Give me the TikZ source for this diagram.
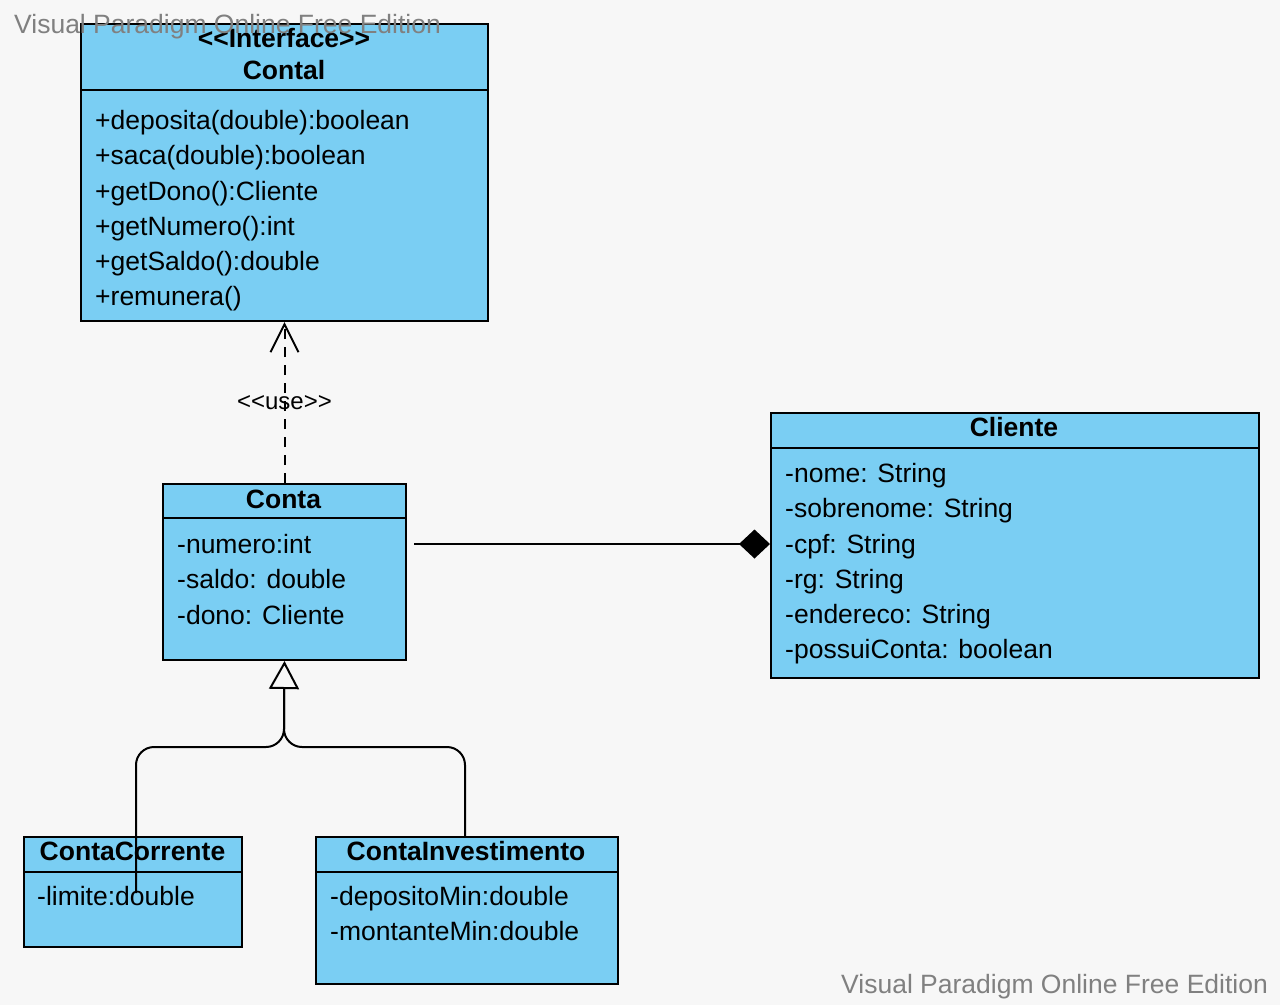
\documentclass[tikz,border=0pt]{standalone}
\usepackage{fontspec}
\setmainfont{Liberation Sans}[Ligatures=TeXOff]
\usetikzlibrary{arrows.meta}
\definecolor{pagebg}{RGB}{247,247,247}
\definecolor{classfill}{RGB}{122,206,243}
\definecolor{markgray}{RGB}{128,128,128}

\begin{document}
\begin{tikzpicture}[x=1pt,y=-1pt,
  classbox/.style={draw=black, line width=2pt, fill=classfill, anchor=north west, inner sep=0pt},
  divider/.style={line width=2pt},
  member/.style={anchor=base west, inner sep=0pt, font=\fontsize{26.5}{30}\selectfont},
  classtitle/.style={anchor=base, inner sep=0pt, font=\fontsize{26.5}{30}\selectfont\bfseries},
  wire/.style={line width=2pt, draw=black},
  stereo/.style={inner sep=0pt, font=\fontsize{24}{27}\selectfont},
  watermark/.style={anchor=base west, inner sep=0pt, text=markgray, font=\fontsize{26.5}{30}\selectfont}]

% page
\fill[pagebg] (0,0) rectangle (1280,1005);
\useasboundingbox (0,0) rectangle (1280,1005);

% interface Contal
\node[classbox, minimum width=407pt, minimum height=297pt] (contal) at (80,23) {};
\draw[divider] (80,90) -- (487,90);
\node[classtitle] (contalSt) at (284,47) {<<Interface>>};
\node[classtitle] (contalName) at (284,79) {Contal};
\node[member] (contalM1) at (95,129) {+deposita(double):boolean};
\node[member] (contalM2) at (95,164.5) {+saca(double):boolean};
\node[member] (contalM3) at (95,200) {+getDono():Cliente};
\node[member] (contalM4) at (95,235) {+getNumero():int};
\node[member] (contalM5) at (95,270) {+getSaldo():double};
\node[member] (contalM6) at (95,305.5) {+remunera()};

% class Conta
\node[classbox, minimum width=243pt, minimum height=176pt] (conta) at (162,483) {};
\draw[divider] (162,518) -- (405,518);
\node[classtitle] (contaName) at (283.5,508) {Conta};
\node[member] (contaA1) at (177,553) {-numero:int};
\node[member] (contaA2) at (177,588) {-saldo: double};
\node[member] (contaA3) at (177,624) {-dono: Cliente};

% class Cliente
\node[classbox, minimum width=488pt, minimum height=265pt] (cliente) at (770,412) {};
\draw[divider] (770,448) -- (1258,448);
\node[classtitle] (clienteName) at (1014,436) {Cliente};
\node[member] (clienteA1) at (785,482) {-nome: String};
\node[member] (clienteA2) at (785,517) {-sobrenome: String};
\node[member] (clienteA3) at (785,553) {-cpf: String};
\node[member] (clienteA4) at (785,588) {-rg: String};
\node[member] (clienteA5) at (785,623) {-endereco: String};
\node[member] (clienteA6) at (785,658) {-possuiConta: boolean};

% class ContaCorrente
\node[classbox, minimum width=218pt, minimum height=110pt] (cc) at (23,836) {};
\draw[divider] (23,872) -- (241,872);
\node[classtitle] (ccName) at (132.5,860) {ContaCorrente};
\node[member] (ccA1) at (37,905) {-limite:double};

% class ContaInvestimento
\node[classbox, minimum width=302pt, minimum height=147pt] (ci) at (315,836) {};
\draw[divider] (315,872) -- (617,872);
\node[classtitle] (ciName) at (466,860) {ContaInvestimento};
\node[member] (ciA1) at (330,905) {-depositoMin:double};
\node[member] (ciA2) at (330,940) {-montanteMin:double};

% dependency Conta -> Contal
\draw[wire, dash pattern=on 10pt off 8pt, -{Straight Barb[length=28pt,width=28pt]}]
  (conta.north) -- (contal.south)
  node[stereo, pos=0.5] (useLabel) {<<use>>};

% composition Conta - Cliente
\coordinate (compStart) at (414,544);
\draw[wire, -{Diamond[length=31pt,width=29pt]}] (compStart) -- (compStart -| cliente.west);

% generalization ContaCorrente / ContaInvestimento -> Conta
\coordinate (genFork) at (284,747);
\coordinate (genBase) at (284,688);
\coordinate (ccEnd) at (136,893);
\coordinate (ciTop) at (465,836);
\draw[wire, rounded corners=18pt] (ccEnd) |- (genFork) -- (genBase);
\draw[wire, rounded corners=18pt] (ciTop) |- (genFork) -- (genBase);
\draw[wire, -{Triangle[open, length=28pt, width=30pt]}] (genBase) -- (conta.south);

% edition marks
\node[watermark] (markTop) at (14,33) {Visual Paradigm Online Free Edition};
\node[watermark] (markBottom) at (841,993) {Visual Paradigm Online Free Edition};
\end{tikzpicture}
\end{document}
